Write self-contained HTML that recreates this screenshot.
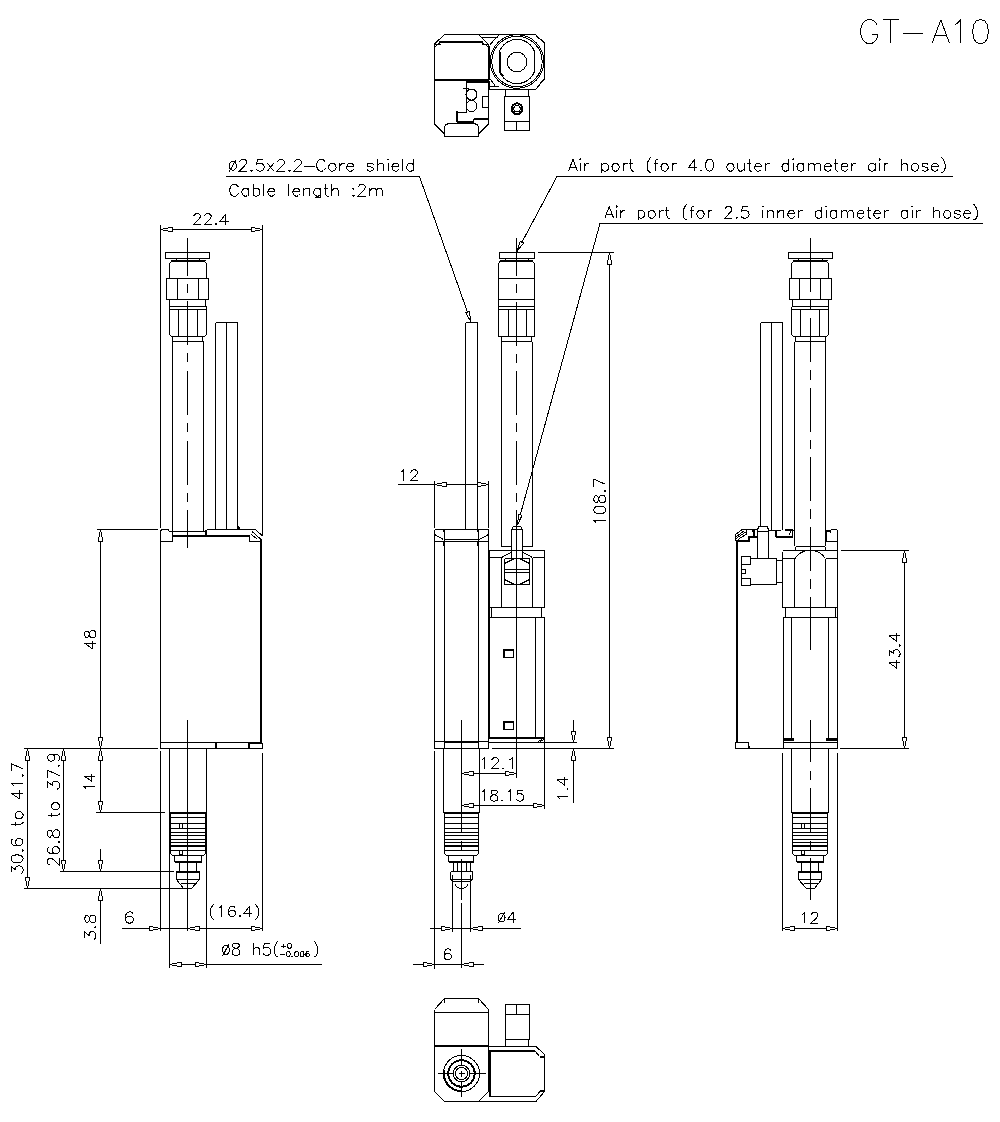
<!DOCTYPE html>
<html><head><meta charset="utf-8"><title>GT-A10</title>
<style>
html,body{margin:0;padding:0;background:#fff;}
body{width:1000px;height:1122px;overflow:hidden;font-family:"Liberation Sans",sans-serif;}
svg{display:block;}
</style></head><body>
<svg width="1000" height="1122" viewBox="0 0 1000 1122" shape-rendering="crispEdges">
<rect width="1000" height="1122" fill="#fff"/>
<g fill="none" stroke="#000" stroke-width="1">
<path d="M160.5 225L160.5 528"/>
<path d="M262.5 225L262.5 535"/>
<path d="M160.5 229.5L262.5 229.5"/>
<path d="M160.5 229.5L172 227.3L172 231.7Z" fill="#fff"/>
<path d="M262.5 229.5L251 231.7L251 227.3Z" fill="#fff"/>
<path class="t" d="M193.8 216.4L193.8 215.9L194.4 214.8L194.9 214.3L196.0 213.8L198.2 213.8L199.3 214.3L199.8 214.8L200.3 215.9L200.3 216.9L199.8 218.0L198.7 219.5L193.3 224.7L200.9 224.7M204.7 216.4L204.7 215.9L205.2 214.8L205.8 214.3L206.8 213.8L209.0 213.8L210.1 214.3L210.6 214.8L211.2 215.9L211.2 216.9L210.6 218.0L209.5 219.5L204.1 224.7L211.7 224.7M216.0 223.7L215.5 224.2L216.0 224.7L216.6 224.2L216.0 223.7M225.8 213.8L220.4 221.1L228.5 221.1M225.8 213.8L225.8 224.7"/>
<path d="M187.5 237.8L187.5 547.6" stroke-dasharray="44 8 9 8.6" stroke-dashoffset="5.95"/>
<path d="M165.5 252.5L209.5 252.5L209.5 258.5L165.5 258.5Z"/>
<path d="M176.5 258.5L176.5 261.5"/>
<path d="M199.5 258.5L199.5 261.5"/>
<path d="M170.5 260.5L206 260.5"/>
<path d="M169.5 278.5L169.5 263.5L171.5 261.5L204.5 261.5L206.5 263.5L206.5 278.5"/>
<path d="M166.5 278.5L208.5 278.5L208.5 299.5L166.5 299.5Z"/>
<path d="M177.5 278.5L177.5 299.5"/>
<path d="M198.5 278.5L198.5 299.5"/>
<path d="M169.5 299.5L169.5 306.5"/>
<path d="M205.5 299.5L205.5 306.5"/>
<path d="M169.5 306.5L207 306.5"/>
<path d="M169.5 309.5L207 309.5"/>
<path d="M169.5 306.5L169.5 334.5L171.5 336.5L204.5 336.5L206.5 334.5L206.5 306.5"/>
<path d="M178.5 309.5L178.5 336.5"/>
<path d="M197.5 309.5L197.5 336.5"/>
<path d="M172.5 336.5L172.5 341.5"/>
<path d="M202.5 336.5L202.5 341.5"/>
<path d="M172.5 341.5L204 341.5"/>
<path d="M172.5 341.5L172.5 531.5"/>
<path d="M203.5 341.5L203.5 531"/>
<path d="M215.5 322.5L215.5 529.5"/>
<path d="M226.5 322.5L226.5 529.5"/>
<path d="M237.5 322.5L237.5 529.5"/>
<path d="M215.5 322.5L238 322.5"/>
<path d="M160.5 530.5L160.5 748.5"/>
<path d="M160.5 531L162 529.5L168 529.5L169.5 531.5L172.5 531.5"/>
<path d="M172.5 531.5L172.5 541.5"/>
<path d="M160.5 541.5L172.5 541.5"/>
<path d="M172.5 536L249.5 536" stroke-width="2"/>
<path d="M172.5 531.5L205.5 531.5"/>
<path d="M206 530L206 537" stroke-width="2"/>
<path d="M206.5 529.5L255.5 529.5"/>
<path d="M255.5 529.5L262.5 536"/>
<path d="M252 531.5L261 539.5"/>
<path d="M251.5 534.5L257.5 539.5"/>
<path d="M249.5 536.5L249.5 541.5L260 541.5"/>
<path d="M238.5 529.5L238.5 526.5L240.5 529.5"/>
<path d="M261 539L261 743" stroke-width="2"/>
<path d="M160.5 742.5L262 742.5"/>
<path d="M160.5 748.5L248.5 748.5"/>
<path d="M216 743L216 748.5" stroke-width="2"/>
<path d="M248.5 743L248.5 747L249.5 748.5"/>
<path d="M249.5 743.5L262.5 743.5L262.5 748.5L249.5 748.5Z"/>
<path d="M187.5 720L187.5 931"/>
<path d="M160.5 751L160.5 930.5"/>
<path d="M262.5 753L262.5 931"/>
<path d="M169.5 748.5L169.5 968"/>
<path d="M206.5 748.5L206.5 968"/>
<path d="M169.5 812.5L207 812.5"/>
<path d="M170.5 813.5L206 813.5"/>
<path d="M170.5 817.5L206 817.5"/>
<path d="M170.5 823.5L206 823.5"/>
<path d="M170.5 828.5L206 828.5"/>
<path d="M170.5 832.5L206 832.5"/>
<path d="M170.5 835.5L206 835.5"/>
<path d="M170.5 839.5L206 839.5"/>
<path d="M170.5 842.5L206 842.5"/>
<path d="M170.5 850.5L206 850.5"/>
<path d="M170 846L206 846" stroke-width="2"/>
<path d="M170.5 813L170.5 853.5L172.5 855.5L203.5 855.5L205.5 853.5L205.5 813"/>
<path d="M179.5 823.5L182.5 823.5L182.5 828.5L179.5 828.5Z"/>
<path d="M179.5 850.5L182.5 850.5L182.5 854.5L179.5 854.5Z"/>
<path d="M174.5 855.5L174.5 862"/>
<path d="M201.5 855.5L201.5 862"/>
<path d="M175 862L202 862" stroke-width="2"/>
<path d="M179.5 863L179.5 871.5"/>
<path d="M196.5 863L196.5 871.5"/>
<path d="M176 872L200 872" stroke-width="2"/>
<path d="M176.5 872L176.5 879.5L183.5 888.5L191.5 888.5L199.5 879.5L199.5 872"/>
<path d="M176.5 879.5L200 879.5"/>
<path d="M180.5 883.5L195 883.5"/>
<path d="M97 529.5L158 529.5"/>
<path d="M100.5 529.5L100.5 748.5"/>
<path d="M100.5 529.5L102.7 541L98.3 541Z" fill="#fff"/>
<path d="M100.5 748.5L98.3 737L102.7 737Z" fill="#fff"/>
<path class="t" d="M84.7 643.2L92.0 648.5L92.0 640.6M84.7 643.2L95.6 643.2M84.7 635.3L85.2 636.9L86.3 637.4L87.3 637.4L88.3 636.9L88.9 635.8L89.4 633.7L89.9 632.1L90.9 631.0L92.0 630.5L93.5 630.5L94.6 631.0L95.1 631.6L95.6 633.1L95.6 635.3L95.1 636.9L94.6 637.4L93.5 637.9L92.0 637.9L90.9 637.4L89.9 636.3L89.4 634.7L88.9 632.6L88.3 631.6L87.3 631.0L86.3 631.0L85.2 631.6L84.7 633.1L84.7 635.3"/>
<path d="M23.5 748.5L158 748.5"/>
<path d="M27.5 748.5L27.5 888.5"/>
<path d="M27.5 748.5L29.7 760L25.3 760Z" fill="#fff"/>
<path d="M27.5 888.5L25.3 877L29.7 877Z" fill="#fff"/>
<path d="M63.5 748.5L63.5 871.5"/>
<path d="M63.5 748.5L65.7 760L61.3 760Z" fill="#fff"/>
<path d="M63.5 871.5L61.3 860L65.7 860Z" fill="#fff"/>
<path d="M100.5 748.5L100.5 812.5"/>
<path d="M100.5 748.5L102.7 760L98.3 760Z" fill="#fff"/>
<path d="M100.5 812.5L98.3 801L102.7 801Z" fill="#fff"/>
<path d="M96 812.5L165 812.5"/>
<path d="M60 871.5L174 871.5"/>
<path d="M23.5 888.5L184 888.5"/>
<path d="M100.5 849L100.5 871.5"/>
<path d="M100.5 871.5L98.3 860L102.7 860Z" fill="#fff"/>
<path d="M100.5 888.5L100.5 944"/>
<path d="M100.5 888.5L102.7 900L98.3 900Z" fill="#fff"/>
<path class="t" d="M11.0 872.4L11.0 866.4L15.6 869.7L15.6 868.0L16.1 866.9L16.7 866.4L18.4 865.8L19.6 865.8L21.3 866.4L22.4 867.5L23.0 869.1L23.0 870.8L22.4 872.4L21.9 873.0L20.7 873.5M11.0 859.3L11.6 860.9L13.3 862.0L16.1 862.6L17.9 862.6L20.7 862.0L22.4 860.9L23.0 859.3L23.0 858.2L22.4 856.5L20.7 855.4L17.9 854.9L16.1 854.9L13.3 855.4L11.6 856.5L11.0 858.2L11.0 859.3M21.9 850.5L22.4 851.1L23.0 850.5L22.4 850.0L21.9 850.5M12.7 839.0L11.6 839.6L11.0 841.2L11.0 842.3L11.6 843.9L13.3 845.0L16.1 845.6L19.0 845.6L21.3 845.0L22.4 843.9L23.0 842.3L23.0 841.8L22.4 840.1L21.3 839.0L19.6 838.5L19.0 838.5L17.3 839.0L16.1 840.1L15.6 841.8L15.6 842.3L16.1 843.9L17.3 845.0L19.0 845.6M11.0 824.2L20.7 824.2L22.4 823.7L23.0 822.6L23.0 821.5M15.0 825.9L15.0 822.1M15.0 816.0L15.6 817.1L16.7 818.2L18.4 818.8L19.6 818.8L21.3 818.2L22.4 817.1L23.0 816.0L23.0 814.4L22.4 813.3L21.3 812.2L19.6 811.7L18.4 811.7L16.7 812.2L15.6 813.3L15.0 814.4L15.0 816.0M11.0 793.1L19.0 798.5L19.0 790.3M11.0 793.1L23.0 793.1M13.3 785.9L12.7 784.8L11.0 783.2L23.0 783.2M21.9 775.5L22.4 776.1L23.0 775.5L22.4 775.0L21.9 775.5M11.0 763.5L23.0 769.0M11.0 771.2L11.0 763.5"/>
<path class="t" d="M50.4 864.9L49.8 864.9L48.6 864.4L48.1 863.8L47.5 862.7L47.5 860.5L48.1 859.4L48.6 858.8L49.8 858.3L50.9 858.3L52.1 858.8L53.8 859.9L59.5 865.5L59.5 857.7M49.2 847.1L48.1 847.7L47.5 849.3L47.5 850.4L48.1 852.1L49.8 853.2L52.6 853.8L55.5 853.8L57.8 853.2L58.9 852.1L59.5 850.4L59.5 849.9L58.9 848.2L57.8 847.1L56.1 846.5L55.5 846.5L53.8 847.1L52.6 848.2L52.1 849.9L52.1 850.4L52.6 852.1L53.8 853.2L55.5 853.8M58.4 842.1L58.9 842.6L59.5 842.1L58.9 841.5L58.4 842.1M47.5 834.8L48.1 836.5L49.2 837.1L50.4 837.1L51.5 836.5L52.1 835.4L52.6 833.2L53.2 831.5L54.4 830.4L55.5 829.8L57.2 829.8L58.4 830.4L58.9 830.9L59.5 832.6L59.5 834.8L58.9 836.5L58.4 837.1L57.2 837.6L55.5 837.6L54.4 837.1L53.2 836.0L52.6 834.3L52.1 832.0L51.5 830.9L50.4 830.4L49.2 830.4L48.1 830.9L47.5 832.6L47.5 834.8M47.5 815.3L57.2 815.3L58.9 814.8L59.5 813.7L59.5 812.5M51.5 817.0L51.5 813.1M51.5 807.0L52.1 808.1L53.2 809.2L54.9 809.8L56.1 809.8L57.8 809.2L58.9 808.1L59.5 807.0L59.5 805.3L58.9 804.2L57.8 803.1L56.1 802.5L54.9 802.5L53.2 803.1L52.1 804.2L51.5 805.3L51.5 807.0M47.5 788.0L47.5 781.9L52.1 785.2L52.1 783.5L52.6 782.4L53.2 781.9L54.9 781.3L56.1 781.3L57.8 781.9L58.9 783.0L59.5 784.7L59.5 786.3L58.9 788.0L58.4 788.6L57.2 789.1M47.5 770.2L59.5 775.7M47.5 778.0L47.5 770.2M58.4 765.7L58.9 766.3L59.5 765.7L58.9 765.1L58.4 765.7M51.5 754.0L53.2 754.6L54.4 755.7L54.9 757.3L54.9 757.9L54.4 759.6L53.2 760.7L51.5 761.2L50.9 761.2L49.2 760.7L48.1 759.6L47.5 757.9L47.5 757.3L48.1 755.7L49.2 754.6L51.5 754.0L54.4 754.0L57.2 754.6L58.9 755.7L59.5 757.3L59.5 758.5L58.9 760.1L57.8 760.7"/>
<path class="t" d="M86.2 789.3L85.7 788.3L84.1 786.8L95.0 786.8M84.1 776.0L91.4 780.9L91.4 773.5M84.1 776.0L95.0 776.0"/>
<path class="t" d="M84.9 938.3L84.9 932.2L89.1 935.5L89.1 933.9L89.6 932.7L90.1 932.2L91.6 931.6L92.7 931.6L94.2 932.2L95.3 933.3L95.8 935.0L95.8 936.6L95.3 938.3L94.8 938.8L93.7 939.4M94.8 927.2L95.3 927.8L95.8 927.2L95.3 926.6L94.8 927.2M84.9 920.0L85.4 921.7L86.5 922.2L87.5 922.2L88.5 921.7L89.1 920.5L89.6 918.3L90.1 916.7L91.1 915.6L92.2 915.0L93.7 915.0L94.8 915.6L95.3 916.1L95.8 917.8L95.8 920.0L95.3 921.7L94.8 922.2L93.7 922.8L92.2 922.8L91.1 922.2L90.1 921.1L89.6 919.4L89.1 917.2L88.5 916.1L87.5 915.6L86.5 915.6L85.4 916.1L84.9 917.8L84.9 920.0"/>
<path d="M121.5 928.5L262.5 928.5"/>
<path d="M160.5 928.5L149 930.7L149 926.3Z" fill="#fff"/>
<path d="M187.5 928.5L199 926.3L199 930.7Z" fill="#fff"/>
<path d="M262.5 928.5L251 930.7L251 926.3Z" fill="#fff"/>
<path class="t" d="M132.9 913.5L132.3 912.4L130.4 911.9L129.2 911.9L127.3 912.4L126.1 914.1L125.5 916.7L125.5 919.4L126.1 921.6L127.3 922.7L129.2 923.2L129.8 923.2L131.7 922.7L132.9 921.6L133.5 920.0L133.5 919.4L132.9 917.8L131.7 916.7L129.8 916.2L129.2 916.2L127.3 916.7L126.1 917.8L125.5 919.4"/>
<path class="t" d="M214.1 904.1L213.0 905.1L211.9 906.6L210.8 908.6L210.3 911.1L210.3 913.1L210.8 915.6L211.9 917.6L213.0 919.1L214.1 920.1M218.9 908.1L220.0 907.6L221.6 906.1L221.6 916.6M235.1 907.6L234.6 906.6L232.9 906.1L231.9 906.1L230.2 906.6L229.2 908.1L228.6 910.6L228.6 913.1L229.2 915.1L230.2 916.1L231.9 916.6L232.4 916.6L234.0 916.1L235.1 915.1L235.6 913.6L235.6 913.1L235.1 911.6L234.0 910.6L232.4 910.1L231.9 910.1L230.2 910.6L229.2 911.6L228.6 913.1M239.9 915.6L239.4 916.1L239.9 916.6L240.5 916.1L239.9 915.6M249.6 906.1L244.2 913.1L252.3 913.1M249.6 906.1L249.6 916.6M255.0 904.1L256.1 905.1L257.2 906.6L258.3 908.6L258.8 911.1L258.8 913.1L258.3 915.6L257.2 917.6L256.1 919.1L255.0 920.1"/>
<path d="M169.5 964.5L322 964.5"/>
<path d="M169.5 964.5L181 962.3L181 966.7Z" fill="#fff"/>
<path d="M206.5 964.5L195 966.7L195 962.3Z" fill="#fff"/>
<path class="t" d="M229.5 949.9L229.2 948.1L228.4 946.6L227.3 945.6L225.9 945.2L224.6 945.6L223.4 946.6L222.7 948.1L222.4 949.9L222.7 951.7L223.4 953.2L224.6 954.2L225.9 954.5L227.3 954.2L228.4 953.2L229.2 951.7L229.5 949.9M222.7 955.8L229.2 943.5M234.9 943.2L233.3 943.8L232.7 944.9L232.7 946.1L233.3 947.3L234.3 947.8L236.5 948.4L238.1 949.0L239.2 950.2L239.8 951.3L239.8 953.1L239.2 954.2L238.7 954.8L237.1 955.4L234.9 955.4L233.3 954.8L232.7 954.2L232.2 953.1L232.2 951.3L232.7 950.2L233.8 949.0L235.4 948.4L237.6 947.8L238.7 947.3L239.2 946.1L239.2 944.9L238.7 943.8L237.1 943.2L234.9 943.2M253.3 943.2L253.3 955.4M253.3 949.6L255.0 947.8L256.0 947.3L257.7 947.3L258.8 947.8L259.3 949.6L259.3 955.4M269.6 943.2L264.2 943.2L263.6 948.4L264.2 947.8L265.8 947.3L267.4 947.3L269.1 947.8L270.2 949.0L270.7 950.8L270.7 951.9L270.2 953.7L269.1 954.8L267.4 955.4L265.8 955.4L264.2 954.8L263.6 954.2L263.1 953.1M278.3 940.9L277.2 942.0L276.1 943.8L275.0 946.1L274.5 949.0L274.5 951.3L275.0 954.2L276.1 955.9L277.2 956.7L278.3 957.2"/>
<path class="t" d="M283.0 943.8L283.0 948.3M280.5 946.1L285.6 946.1M289.2 943.1L288.4 943.3L287.8 944.1L287.6 945.3L287.6 946.1L287.8 947.3L288.4 948.1L289.2 948.3L289.8 948.3L290.7 948.1L291.2 947.3L291.5 946.1L291.5 945.3L291.2 944.1L290.7 943.3L289.8 943.1L289.2 943.1"/>
<path class="t" d="M280.3 954.6L285.3 954.6M288.0 951.6L287.2 951.8L286.6 952.6L286.4 953.8L286.4 954.6L286.6 955.8L287.2 956.6L288.0 956.8L288.6 956.8L289.4 956.6L289.9 955.8L290.2 954.6L290.2 953.8L289.9 952.6L289.4 951.8L288.6 951.6L288.0 951.6M292.4 956.3L292.1 956.6L292.4 956.8L292.7 956.6L292.4 956.3M296.3 951.6L295.5 951.8L294.9 952.6L294.6 953.8L294.6 954.6L294.9 955.8L295.5 956.6L296.3 956.8L296.8 956.8L297.7 956.6L298.2 955.8L298.5 954.6L298.5 953.8L298.2 952.6L297.7 951.8L296.8 951.6L296.3 951.6M301.8 951.6L301.0 951.8L300.4 952.6L300.1 953.8L300.1 954.6L300.4 955.8L301.0 956.6L301.8 956.8L302.3 956.8L303.2 956.6L303.7 955.8L304.0 954.6L304.0 953.8L303.7 952.6L303.2 951.8L302.3 951.6L301.8 951.6M309.2 952.3L308.9 951.8L308.1 951.6L307.6 951.6L306.7 951.8L306.2 952.6L305.9 953.8L305.9 955.1L306.2 956.1L306.7 956.6L307.6 956.8L307.8 956.8L308.7 956.6L309.2 956.1L309.5 955.3L309.5 955.1L309.2 954.3L308.7 953.8L307.8 953.6L307.6 953.6L306.7 953.8L306.2 954.3L305.9 955.1"/>
<path class="t" d="M313.8 940.9L314.9 942.0L316.0 943.8L317.1 946.1L317.6 949.0L317.6 951.3L317.1 954.2L316.0 955.9L314.9 956.7L313.8 957.2"/>
<path d="M516.5 238L516.5 526" stroke-dasharray="44 8 9 8.6" stroke-dashoffset="5.95"/>
<path d="M499.5 252.5L534.5 252.5L534.5 258.5L499.5 258.5Z"/>
<path d="M505.5 258.5L505.5 262"/>
<path d="M528.5 258.5L528.5 262"/>
<path d="M500 260.5L533 260.5"/>
<path d="M498.5 336.5L498.5 263.5L500 261.5L532.5 261.5L534.5 263.5L534.5 336.5"/>
<path d="M498.5 278.5L534.5 278.5"/>
<path d="M498.5 299.5L534.5 299.5"/>
<path d="M498.5 306.5L534.5 306.5"/>
<path d="M498.5 309.5L534.5 309.5"/>
<path d="M498.5 336.5L534.5 336.5"/>
<path d="M508.5 309.5L508.5 336.5"/>
<path d="M526.5 309.5L526.5 336.5"/>
<path d="M501.5 336.5L501.5 341.5"/>
<path d="M531.5 336.5L531.5 341.5"/>
<path d="M501.5 341.5L532 341.5"/>
<path d="M501.5 341.5L501.5 547"/>
<path d="M532.5 341.5L532.5 547"/>
<path d="M465.5 322.5L465.5 529.5"/>
<path d="M477.5 322.5L477.5 529.5"/>
<path d="M465.5 322.5L478 322.5"/>
<path d="M434.5 481L434.5 528"/>
<path d="M488.5 481L488.5 528"/>
<path d="M398 484.5L488.5 484.5"/>
<path d="M434.5 484.5L446 482.3L446 486.7Z" fill="#fff"/>
<path d="M488.5 484.5L477 486.7L477 482.3Z" fill="#fff"/>
<path class="t" d="M401.0 472.0L402.1 471.5L403.7 469.9L403.7 480.8M410.9 472.5L410.9 472.0L411.4 470.9L412.0 470.4L413.1 469.9L415.3 469.9L416.4 470.4L416.9 470.9L417.5 472.0L417.5 473.0L416.9 474.1L415.8 475.6L410.3 480.8L418.0 480.8"/>
<path d="M434.5 529.5L434.5 748.5"/>
<path d="M488.5 529.5L488.5 748.5"/>
<path d="M434.5 529.5L488.5 529.5"/>
<path d="M444.5 529.5L444.5 748.5"/>
<path d="M478.5 529.5L478.5 748.5"/>
<path d="M444 529.5L444 532" stroke-width="2"/>
<path d="M478 529.5L478 532" stroke-width="2"/>
<path d="M434.5 534.5L443.5 539.5"/>
<path d="M488.5 534.5L479.5 539.5"/>
<path d="M444.5 539.5L478.5 539.5"/>
<path d="M434.5 541.5L488.5 541.5"/>
<path d="M444 541.5L444 546" stroke-width="2"/>
<path d="M478 541.5L478 546" stroke-width="2"/>
<path d="M444.5 742L478.5 742" stroke-width="2"/>
<path d="M434.5 741.5L488.5 741.5"/>
<path d="M434.5 748.5L488.5 748.5"/>
<path d="M461.5 720L461.5 832.3"/>
<path d="M461.5 841L461.5 849.7"/>
<path d="M461.5 858.5L461.5 899.7"/>
<path d="M461.5 903.4L461.5 968.3"/>
<path d="M501.5 546.5L511.5 546.5"/>
<path d="M522 546.5L532.5 546.5"/>
<path d="M489 550.5L545 550.5"/>
<path d="M489 550.5L489 738" stroke-width="2"/>
<path d="M544.5 550.5L544.5 607.5"/>
<path d="M489 557.5L501.5 557.5"/>
<path d="M532.5 557.5L544.5 557.5"/>
<path d="M501.5 557.5L511 552.5"/>
<path d="M532.5 557.5L523 552.5"/>
<path d="M501.5 557.5L501.5 607.5"/>
<path d="M532.5 557.5L532.5 607.5"/>
<path d="M511.5 557.5L511.5 529.5L513.5 526.5L520.5 526.5L522.5 529.5L522.5 557.5"/>
<path d="M511.5 529.5L522.5 529.5"/>
<path d="M516.5 526.5L516.5 777.5"/>
<path d="M504.5 563.5L504.5 584.5L529.5 584.5L529.5 563.5"/>
<path d="M504.5 563.5L514.5 558.5"/>
<path d="M529.5 563.5L519.5 558.5"/>
<path d="M504.5 558.5L529.5 558.5"/>
<path d="M504.5 558.5L504.5 563.5"/>
<path d="M529.5 558.5L529.5 563.5"/>
<path d="M504.5 569.5L529.5 569.5"/>
<path d="M504.5 572.5L529.5 572.5"/>
<path d="M504.5 579.5L514.5 584.5"/>
<path d="M529.5 579.5L519.5 584.5"/>
<path d="M489 607.5L545 607.5"/>
<path d="M491.5 607.5L491.5 617.5"/>
<path d="M541.5 607.5L541.5 617.5"/>
<path d="M489 617.5L545 617.5"/>
<path d="M535.5 617.5L535.5 738"/>
<path d="M544.5 617.5L544.5 809"/>
<path d="M489 738L543.5 738" stroke-width="2"/>
<path d="M538.5 741.5L544.5 737.5"/>
<path d="M540.5 741.5L544.5 739"/>
<path d="M503.5 649.5L513.5 649.5L513.5 657.5L503.5 657.5Z"/>
<path d="M504 649.5L504 657.5" stroke-width="2"/>
<path d="M503.5 650L513.5 650" stroke-width="2"/>
<path d="M503.5 721.5L513.5 721.5L513.5 729.5L503.5 729.5Z"/>
<path d="M504 721.5L504 729.5" stroke-width="2"/>
<path d="M503.5 722L513.5 722" stroke-width="2"/>
<path d="M489 742.5L577 742.5"/>
<path d="M491.5 748.5L614 748.5"/>
<path d="M573.5 720L573.5 742.5"/>
<path d="M573.5 742.5L571.3 731L575.7 731Z" fill="#fff"/>
<path d="M573.5 748.5L573.5 802.5"/>
<path d="M573.5 748.5L575.7 760L571.3 760Z" fill="#fff"/>
<path class="t" d="M559.4 798.7L558.9 797.7L557.3 796.2L568.2 796.2M567.2 789.1L567.7 789.6L568.2 789.1L567.7 788.6L567.2 789.1M557.3 779.9L564.6 785.0L564.6 777.4M557.3 779.9L568.2 779.9"/>
<path d="M538 252.5L613.5 252.5"/>
<path d="M609.5 252.5L609.5 748.5"/>
<path d="M609.5 252.5L611.7 264L607.3 264Z" fill="#fff"/>
<path d="M609.5 748.5L607.3 737L611.7 737Z" fill="#fff"/>
<path class="t" d="M596.1 523.0L595.6 521.9L593.9 520.3L605.5 520.3M593.9 510.5L594.5 512.1L596.1 513.2L598.9 513.8L600.5 513.8L603.3 513.2L604.9 512.1L605.5 510.5L605.5 509.4L604.9 507.8L603.3 506.7L600.5 506.2L598.9 506.2L596.1 506.7L594.5 507.8L593.9 509.4L593.9 510.5M593.9 500.2L594.5 501.8L595.6 502.4L596.7 502.4L597.8 501.8L598.3 500.7L598.9 498.6L599.4 496.9L600.5 495.8L601.6 495.3L603.3 495.3L604.4 495.8L604.9 496.4L605.5 498.0L605.5 500.2L604.9 501.8L604.4 502.4L603.3 502.9L601.6 502.9L600.5 502.4L599.4 501.3L598.9 499.6L598.3 497.5L597.8 496.4L596.7 495.8L595.6 495.8L594.5 496.4L593.9 498.0L593.9 500.2M604.4 491.0L604.9 491.5L605.5 491.0L604.9 490.4L604.4 491.0M593.9 479.0L605.5 484.4M593.9 486.6L593.9 479.0"/>
<path d="M434.5 751L434.5 968.5"/>
<path d="M443.5 748.5L443.5 812.5"/>
<path d="M479.5 748.5L479.5 812.5"/>
<path d="M461.5 773.5L516.5 773.5"/>
<path d="M461.5 773.5L473 771.3L473 775.7Z" fill="#fff"/>
<path d="M516.5 773.5L505 775.7L505 771.3Z" fill="#fff"/>
<path class="t" d="M481.8 759.9L482.9 759.4L484.6 757.8L484.6 768.7M491.8 760.4L491.8 759.9L492.3 758.8L492.9 758.3L494.0 757.8L496.2 757.8L497.3 758.3L497.9 758.8L498.4 759.9L498.4 760.9L497.9 762.0L496.8 763.5L491.2 768.7L499.0 768.7M503.4 767.7L502.9 768.2L503.4 768.7L504.0 768.2L503.4 767.7M509.5 759.9L510.6 759.4L512.3 757.8L512.3 768.7"/>
<path d="M461.5 805.5L544.5 805.5"/>
<path d="M461.5 805.5L473 803.3L473 807.7Z" fill="#fff"/>
<path d="M544.5 805.5L533 807.7L533 803.3Z" fill="#fff"/>
<path class="t" d="M481.8 792.2L482.8 791.7L484.4 790.1L484.4 801.0M493.2 790.1L491.7 790.6L491.1 791.7L491.1 792.7L491.7 793.7L492.7 794.3L494.8 794.8L496.3 795.3L497.4 796.3L497.9 797.4L497.9 798.9L497.4 800.0L496.8 800.5L495.3 801.0L493.2 801.0L491.7 800.5L491.1 800.0L490.6 798.9L490.6 797.4L491.1 796.3L492.2 795.3L493.7 794.8L495.8 794.3L496.8 793.7L497.4 792.7L497.4 791.7L496.8 790.6L495.3 790.1L493.2 790.1M502.0 800.0L501.5 800.5L502.0 801.0L502.5 800.5L502.0 800.0M507.7 792.2L508.8 791.7L510.3 790.1L510.3 801.0M522.8 790.1L517.6 790.1L517.1 794.8L517.6 794.3L519.1 793.7L520.7 793.7L522.2 794.3L523.3 795.3L523.8 796.8L523.8 797.9L523.3 799.4L522.2 800.5L520.7 801.0L519.1 801.0L517.6 800.5L517.1 800.0L516.5 798.9"/>
<path d="M443.5 812.5L479.5 812.5"/>
<path d="M444.5 813.5L478.5 813.5"/>
<path d="M444.5 817.5L478.5 817.5"/>
<path d="M444.5 823.5L478.5 823.5"/>
<path d="M444.5 828.5L478.5 828.5"/>
<path d="M444.5 832.5L478.5 832.5"/>
<path d="M444.5 835.5L478.5 835.5"/>
<path d="M444.5 839.5L478.5 839.5"/>
<path d="M444.5 842.5L478.5 842.5"/>
<path d="M444.5 850.5L478.5 850.5"/>
<path d="M444.5 846L478.5 846" stroke-width="2"/>
<path d="M444.5 813L444.5 853.5L446.5 855.5L476.5 855.5L478.5 853.5L478.5 813"/>
<path d="M448.5 855.5L448.5 862"/>
<path d="M473.5 855.5L473.5 862"/>
<path d="M448.5 862L474 862" stroke-width="2"/>
<path d="M453.5 863L453.5 871.5"/>
<path d="M470.5 863L470.5 871.5"/>
<path d="M457.5 863L457.5 871.5"/>
<path d="M466.5 863L466.5 871.5"/>
<path d="M451 871.5L473 871.5"/>
<path d="M450.5 871.5L450.5 879L452.5 881.5L470.5 881.5L472.5 879L472.5 871.5"/>
<path d="M455 884A6.9 6.9 0 0 0 468 884"/>
<path d="M451 879.5L473 879.5"/>
<path d="M452.5 875L452.5 881"/>
<path d="M470.5 875L470.5 881"/>
<path d="M452.5 881.5L452.5 931.5"/>
<path d="M470.5 881.5L470.5 931.5"/>
<path d="M430 928.5L521 928.5"/>
<path d="M452.5 928.5L441 930.7L441 926.3Z" fill="#fff"/>
<path d="M470.5 928.5L482 926.3L482 930.7Z" fill="#fff"/>
<path class="t" d="M505.1 917.9L504.8 916.3L504.1 914.9L502.9 914.0L501.5 913.7L500.2 914.0L499.0 914.9L498.3 916.3L498.0 917.9L498.3 919.5L499.0 920.8L500.2 921.7L501.5 922.0L502.9 921.7L504.1 920.8L504.8 919.5L505.1 917.9M498.3 923.2L504.8 912.2M513.3 911.9L507.8 919.2L516.0 919.2M513.3 911.9L513.3 922.8"/>
<path d="M412.5 964.5L483.5 964.5"/>
<path d="M434.5 964.5L423 966.7L423 962.3Z" fill="#fff"/>
<path d="M461.5 964.5L473 962.3L473 966.7Z" fill="#fff"/>
<path class="t" d="M450.9 950.5L450.4 949.4L448.7 948.9L447.6 948.9L446.0 949.4L444.9 951.0L444.3 953.6L444.3 956.2L444.9 958.2L446.0 959.3L447.6 959.8L448.2 959.8L449.8 959.3L450.9 958.2L451.5 956.7L451.5 956.2L450.9 954.6L449.8 953.6L448.2 953.1L447.6 953.1L446.0 953.6L444.9 954.6L444.3 956.2"/>
<path d="M810.5 238.4L810.5 292.1"/>
<path d="M810.5 300.1L810.5 309.8"/>
<path d="M810.5 317.8L810.5 361.8"/>
<path d="M810.5 369.8L810.5 379.5"/>
<path d="M810.5 387.5L810.5 431.5"/>
<path d="M810.5 439.5L810.5 449.2"/>
<path d="M810.5 457.2L810.5 501.2"/>
<path d="M810.5 509.2L810.5 518.9"/>
<path d="M810.5 526.9L810.5 570.9"/>
<path d="M810.5 578.9L810.5 588.6"/>
<path d="M810.5 596.6L810.5 650.2"/>
<path d="M810.5 720L810.5 762.1"/>
<path d="M810.5 770.5L810.5 780.2"/>
<path d="M810.5 788.1L810.5 831.8"/>
<path d="M810.5 841L810.5 850"/>
<path d="M810.5 858L810.5 899.8"/>
<path d="M788.5 252.5L832.5 252.5L832.5 258.5L788.5 258.5Z"/>
<path d="M822.5 258.5L822.5 261.5"/>
<path d="M798.5 258.5L798.5 261.5"/>
<path d="M792.5 260.5L828 260.5"/>
<path d="M828.5 278.5L828.5 263.5L826.5 261.5L793.5 261.5L791.5 263.5L791.5 278.5"/>
<path d="M789.5 278.5L831.5 278.5L831.5 299.5L789.5 299.5Z"/>
<path d="M820.5 278.5L820.5 299.5"/>
<path d="M799.5 278.5L799.5 299.5"/>
<path d="M828.5 299.5L828.5 306.5"/>
<path d="M792.5 299.5L792.5 306.5"/>
<path d="M791.5 306.5L829 306.5"/>
<path d="M791.5 309.5L829 309.5"/>
<path d="M828.5 306.5L828.5 334.5L826.5 336.5L793.5 336.5L791.5 334.5L791.5 306.5"/>
<path d="M819.5 309.5L819.5 336.5"/>
<path d="M800.5 309.5L800.5 336.5"/>
<path d="M825.5 336.5L825.5 341.5"/>
<path d="M795.5 336.5L795.5 341.5"/>
<path d="M794.5 341.5L826 341.5"/>
<path d="M794.5 341.5L794.5 546"/>
<path d="M825.5 341.5L825.5 546"/>
<path d="M760.5 322.5L760.5 526.5"/>
<path d="M771.5 322.5L771.5 530"/>
<path d="M782.5 322.5L782.5 529.5"/>
<path d="M760.5 322.5L783 322.5"/>
<path d="M737 541L737 742.5" stroke-width="2"/>
<path d="M735.5 540.5L735.5 534.5L742 529.5L757.5 529.5"/>
<path d="M736 538.5L746.5 531.5"/>
<path d="M736.5 536.5L744.5 530.5"/>
<path d="M746.5 529.5L746.5 534L738 539.5"/>
<path d="M736 540.5L749 540.5L749 537L757.5 537" stroke-width="2"/>
<path d="M754 530L754 536" stroke-width="2"/>
<path d="M752.5 530L754 535"/>
<path d="M757.5 558.5L757.5 530.5L758.5 526.5L767.5 526.5L768.5 530.5L768.5 558.5"/>
<path d="M757.5 531.5L768.5 531.5"/>
<path d="M768.5 530.5L775.5 530.5"/>
<path d="M775.5 530L775.5 536.5L792.5 536.5L792.5 529.5"/>
<path d="M776 530L776 537" stroke-width="2"/>
<path d="M775.5 537L792.5 537" stroke-width="2"/>
<path d="M785 530L792.5 530" stroke-width="2"/>
<path d="M775.5 530.5L781 530.5"/>
<path d="M789 535L791 531"/>
<path d="M792.5 530.5L794.5 530.5"/>
<path d="M831 529.5L836.5 529.5L837.5 530.5L837.5 748.5"/>
<path d="M825.5 531L830.5 531" stroke-width="2"/>
<path d="M830.5 529.5L830.5 532.5"/>
<path d="M826 532L826 541" stroke-width="2"/>
<path d="M826 541.5L837.5 541.5"/>
<path d="M795.5 546.5L825 546.5"/>
<path d="M795.5 546.5L795.5 550.5"/>
<path d="M825.5 546.5L825.5 550.5"/>
<path d="M783 550.5L838 550.5"/>
<path d="M841 550.5L909 550.5"/>
<path d="M782.5 552L782.5 607.5"/>
<path d="M782.5 558.5L794.5 558.5"/>
<path d="M825.5 558.5L838 558.5"/>
<path d="M794.5 558.5L794.5 607.5"/>
<path d="M825.5 558.5L825.5 607.5"/>
<path d="M795 558.5A18.3 18.3 0 0 1 825.5 558.5"/>
<path d="M750.5 558.5L776.5 558.5L776.5 584.5L750.5 584.5"/>
<path d="M750.5 564.5L750.5 556.5L741.5 556.5L741.5 585.5L750.5 585.5L750.5 578.5"/>
<path d="M741.5 564.5L750.5 564.5"/>
<path d="M741.5 578.5L750.5 578.5"/>
<path d="M741.5 569.5L745.5 569.5L745.5 573.5L741.5 573.5"/>
<path d="M776.5 560.5L782.5 560.5"/>
<path d="M776.5 582.5L782.5 582.5"/>
<path d="M782.5 607.5L838 607.5"/>
<path d="M785.5 607.5L785.5 617.5"/>
<path d="M835.5 607.5L835.5 617.5"/>
<path d="M782.5 617.5L838 617.5"/>
<path d="M783.5 617.5L783.5 748.5"/>
<path d="M791.5 617.5L791.5 738"/>
<path d="M828.5 617.5L828.5 738"/>
<path d="M735.5 742.5L748.5 742.5L748.5 748.5L735.5 748.5Z"/>
<path d="M748.5 744L749.5 748.5"/>
<path d="M735.5 748.5L838 748.5"/>
<path d="M840 748.5L909 748.5"/>
<path d="M783 742.5L838 742.5"/>
<path d="M783 739.5L794 739.5" stroke-width="3"/>
<path d="M826 739.5L838 739.5" stroke-width="3"/>
<path d="M782.5 753L782.5 931"/>
<path d="M837.5 753L837.5 931"/>
<path d="M791.5 748.5L791.5 812.5"/>
<path d="M828.5 748.5L828.5 812.5"/>
<path d="M791.5 812.5L829 812.5"/>
<path d="M792.5 813.5L828 813.5"/>
<path d="M792.5 817.5L828 817.5"/>
<path d="M792.5 823.5L828 823.5"/>
<path d="M792.5 828.5L828 828.5"/>
<path d="M792.5 832.5L828 832.5"/>
<path d="M792.5 835.5L828 835.5"/>
<path d="M792.5 839.5L828 839.5"/>
<path d="M792.5 842.5L828 842.5"/>
<path d="M792.5 850.5L828 850.5"/>
<path d="M792 846L828 846" stroke-width="2"/>
<path d="M827.5 813L827.5 853.5L825.5 855.5L794.5 855.5L792.5 853.5L792.5 813"/>
<path d="M801.5 823.5L804.5 823.5L804.5 828.5L801.5 828.5Z"/>
<path d="M801.5 850.5L804.5 850.5L804.5 854.5L801.5 854.5Z"/>
<path d="M823.5 855.5L823.5 862"/>
<path d="M796.5 855.5L796.5 862"/>
<path d="M797 862L824 862" stroke-width="2"/>
<path d="M818.5 863L818.5 871.5"/>
<path d="M801.5 863L801.5 871.5"/>
<path d="M798 872L822 872" stroke-width="2"/>
<path d="M821.5 872L821.5 879.5L814.5 888.5L806.5 888.5L798.5 879.5L798.5 872"/>
<path d="M798.5 879.5L822 879.5"/>
<path d="M803.5 883.5L818 883.5"/>
<path d="M904.5 550.5L904.5 748.5"/>
<path d="M904.5 550.5L906.7 562L902.3 562Z" fill="#fff"/>
<path d="M904.5 748.5L902.3 737L906.7 737Z" fill="#fff"/>
<path class="t" d="M889.1 662.6L896.4 668.0L896.4 659.9M889.1 662.6L900.0 662.6M889.1 656.2L889.1 650.2L893.3 653.5L893.3 651.8L893.8 650.8L894.3 650.2L895.8 649.7L896.9 649.7L898.4 650.2L899.5 651.3L900.0 652.9L900.0 654.5L899.5 656.2L899.0 656.7L897.9 657.2M899.0 645.4L899.5 645.9L900.0 645.4L899.5 644.8L899.0 645.4M889.1 635.7L896.4 641.1L896.4 633.0M889.1 635.7L900.0 635.7"/>
<path d="M782.5 928.5L837.5 928.5"/>
<path d="M782.5 928.5L794 926.3L794 930.7Z" fill="#fff"/>
<path d="M837.5 928.5L826 930.7L826 926.3Z" fill="#fff"/>
<path class="t" d="M801.8 914.5L802.9 914.0L804.5 912.4L804.5 923.3M811.4 915.0L811.4 914.5L812.0 913.4L812.5 912.9L813.6 912.4L815.7 912.4L816.8 912.9L817.3 913.4L817.9 914.5L817.9 915.5L817.3 916.6L816.3 918.1L810.9 923.3L818.4 923.3"/>
<path d="M434.5 44L444.5 34.5L535.5 34.5L544.5 43L544.5 79L535.5 89.5L489.5 89.5"/>
<path d="M434.5 44L434.5 124L444.5 134"/>
<path d="M488.5 44L488.5 124L478.5 134"/>
<path d="M478.5 34.5L488.5 44.5"/>
<path d="M439 42L482.5 42" stroke-width="2"/>
<path d="M435 46.5L440 43"/>
<path d="M482.5 43L488 46.5"/>
<path d="M435 44.5L441 44.5"/>
<path d="M482 44.5L488 44.5"/>
<path d="M434.5 80L488.5 80" stroke-width="2"/>
<path d="M466 81.5L488.5 81.5" stroke-width="3"/>
<path d="M489 46L489 80" stroke-width="2"/>
<path d="M466.5 82L466.5 112.5"/>
<path d="M462.5 88.5L469 88.5"/>
<circle cx="471.5" cy="94.5" r="5.5"/>
<circle cx="471.5" cy="106" r="5.5"/>
<path d="M482.5 96.5L488.5 96.5L488.5 107.5L482.5 107.5Z"/>
<path d="M457 111L457 122" stroke-width="2"/>
<path d="M457 112.5L466.5 112.5"/>
<path d="M457 122L473.5 122" stroke-width="2"/>
<path d="M473.5 119L473.5 121.5"/>
<path d="M473.5 119L488.5 119" stroke-width="2"/>
<path d="M444.5 136.5L444.5 127L446 124.5L449 123.5L474 123.5L477 124.5L478.5 127L478.5 136.5L444.5 136.5"/>
<path d="M449 123.5L471 123.5"/>
<path d="M482 37.5L497.5 37.5"/>
<path d="M490 44.5L498.5 35.5"/>
<path d="M489.5 78L495 85.5"/>
<path d="M536.5 36L543.5 42.5"/>
<path d="M536.5 87.5L543.5 80"/>
<path d="M489.5 86.5L498.5 86.5"/>
<path d="M489.5 80.5L489.5 89.5"/>
<circle cx="517" cy="61.5" r="26.8"/>
<circle cx="517" cy="61.5" r="25.2"/>
<path d="M499.5 51.5A18.7 18.7 0 0 1 534.5 51.5L534.5 71.5A18.7 18.7 0 0 1 499.5 71.5Z"/>
<path d="M500 52L500 71" stroke-width="2"/>
<path d="M499.5 71.5L503 76.5" stroke-width="2"/>
<circle cx="517" cy="62" r="9.8"/>
<path d="M505.5 89.5L505.5 96.5"/>
<path d="M528.5 89.5L528.5 96.5"/>
<path d="M504.5 96.5L529.5 96.5L529.5 130.5L504.5 130.5Z"/>
<path d="M504.5 121.5L529.5 121.5"/>
<path d="M516.5 121.5L516.5 130.5"/>
<circle cx="517" cy="108.8" r="5.4" stroke-width="2"/>
<circle cx="517" cy="108.8" r="3.2"/>
<path d="M434.5 1009.5L444.5 998.5L478.5 998.5L488.5 1009.5L488.5 1091.5L478.5 1101.5"/>
<path d="M434.5 1009.5L434.5 1091.5L444.5 1101.5L536 1101.5L544.5 1091.5L544.5 1054.5L536 1046.5L488.5 1046.5"/>
<path d="M444.5 998.5L444.5 1003"/>
<path d="M478.5 998.5L478.5 1002.5"/>
<path d="M434.5 1012.5L488.5 1012.5"/>
<path d="M434.5 1046L488.5 1046" stroke-width="2"/>
<circle cx="461.5" cy="1073.5" r="18"/>
<path d="M444 1070A17.7 17.7 0 0 0 461 1091" stroke-width="2"/>
<circle cx="461.5" cy="1073.5" r="13.2" stroke-width="2"/>
<circle cx="461.5" cy="1073.5" r="8.3"/>
<circle cx="461.5" cy="1073.5" r="6.1"/>
<path d="M438 1073.5L453 1073.5"/>
<path d="M470 1073.5L486 1073.5"/>
<path d="M461.5 1049L461.5 1065"/>
<path d="M461.5 1082L461.5 1096.5"/>
<path d="M459 1073.5L464.5 1073.5"/>
<path d="M461.5 1071L461.5 1076.5"/>
<path d="M490 1050L490 1097" stroke-width="2"/>
<path d="M489 1051L535 1051" stroke-width="2"/>
<path d="M535 1051L539.5 1056.5"/>
<path d="M539.5 1057L544.5 1057" stroke-width="2"/>
<path d="M489.5 1096.5L535.5 1096.5"/>
<path d="M535.5 1096.5L540 1091.5"/>
<path d="M540 1091L544.5 1091" stroke-width="2"/>
<path d="M505.5 1004.5L529.5 1004.5L529.5 1039.5L505.5 1039.5Z"/>
<path d="M505.5 1014.5L529.5 1014.5"/>
<path d="M516.5 1004.5L516.5 1014.5"/>
<path d="M505.5 1039.5L505.5 1046.5"/>
<path d="M528.5 1039.5L528.5 1046.5"/>
<path class="t" d="M877.2 25.5L876.2 23.3L874.0 21.0L871.8 19.9L867.4 19.9L865.2 21.0L863.0 23.3L861.9 25.5L860.8 28.9L860.8 34.4L861.9 37.8L863.0 40.0L865.2 42.3L867.4 43.4L871.8 43.4L874.0 42.3L876.2 40.0L877.2 37.8L877.2 34.4M871.8 34.4L877.2 34.4M890.9 19.9L890.9 43.4M883.2 19.9L898.6 19.9M903.2 33.3L922.9 33.3M940.8 19.9L932.0 43.4M940.8 19.9L949.5 43.4M935.3 35.6L946.3 35.6M955.2 24.4L957.4 23.3L960.7 19.9L960.7 43.4M979.4 19.9L976.1 21.0L973.9 24.4L972.8 30.0L972.8 33.3L973.9 38.9L976.1 42.3L979.4 43.4L981.6 43.4L984.9 42.3L987.1 38.9L988.2 33.3L988.2 30.0L987.1 24.4L984.9 21.0L981.6 19.9L979.4 19.9"/>
<path class="t" d="M236.4 165.8L236.1 164.1L235.3 162.7L234.1 161.7L232.7 161.3L231.3 161.7L230.1 162.7L229.3 164.1L229.0 165.8L229.3 167.5L230.1 169.0L231.3 169.9L232.7 170.3L234.1 169.9L235.3 169.0L236.1 167.5L236.4 165.8M229.3 171.5L236.1 159.7M239.8 162.2L239.8 161.6L240.3 160.5L240.9 160.0L242.0 159.4L244.3 159.4L245.4 160.0L246.0 160.5L246.5 161.6L246.5 162.7L246.0 163.9L244.8 165.5L239.2 171.1L247.1 171.1M251.6 170.0L251.1 170.5L251.6 171.1L252.2 170.5L251.6 170.0M263.0 159.4L257.3 159.4L256.7 164.4L257.3 163.9L259.0 163.3L260.7 163.3L262.4 163.9L263.5 165.0L264.1 166.6L264.1 167.8L263.5 169.4L262.4 170.5L260.7 171.1L259.0 171.1L257.3 170.5L256.7 170.0L256.2 168.9M267.5 163.3L273.7 171.1M273.7 163.3L267.5 171.1M277.7 162.2L277.7 161.6L278.2 160.5L278.8 160.0L279.9 159.4L282.2 159.4L283.3 160.0L283.9 160.5L284.5 161.6L284.5 162.7L283.9 163.9L282.8 165.5L277.1 171.1L285.0 171.1M289.6 170.0L289.0 170.5L289.6 171.1L290.1 170.5L289.6 170.0M294.7 162.2L294.7 161.6L295.2 160.5L295.8 160.0L296.9 159.4L299.2 159.4L300.3 160.0L300.9 160.5L301.4 161.6L301.4 162.7L300.9 163.9L299.7 165.5L294.1 171.1L302.0 171.1M304.3 166.1L314.5 166.1M325.2 162.2L324.6 161.1L323.5 160.0L322.4 159.4L320.1 159.4L319.0 160.0L317.9 161.1L317.3 162.2L316.7 163.9L316.7 166.6L317.3 168.3L317.9 169.4L319.0 170.5L320.1 171.1L322.4 171.1L323.5 170.5L324.6 169.4L325.2 168.3M331.4 163.3L330.3 163.9L329.2 165.0L328.6 166.6L328.6 167.8L329.2 169.4L330.3 170.5L331.4 171.1L333.1 171.1L334.3 170.5L335.4 169.4L336.0 167.8L336.0 166.6L335.4 165.0L334.3 163.9L333.1 163.3L331.4 163.3M339.9 163.3L339.9 171.1M339.9 166.6L340.5 165.0L341.6 163.9L342.8 163.3L344.5 163.3M346.7 166.6L353.5 166.6L353.5 165.5L352.9 164.4L352.4 163.9L351.2 163.3L349.5 163.3L348.4 163.9L347.3 165.0L346.7 166.6L346.7 167.8L347.3 169.4L348.4 170.5L349.5 171.1L351.2 171.1L352.4 170.5L353.5 169.4M373.3 165.0L372.8 163.9L371.1 163.3L369.4 163.3L367.7 163.9L367.1 165.0L367.7 166.1L368.8 166.6L371.6 167.2L372.8 167.8L373.3 168.9L373.3 169.4L372.8 170.5L371.1 171.1L369.4 171.1L367.7 170.5L367.1 169.4M377.3 159.4L377.3 171.1M377.3 165.5L379.0 163.9L380.1 163.3L381.8 163.3L382.9 163.9L383.5 165.5L383.5 171.1M387.5 159.4L388.0 160.0L388.6 159.4L388.0 158.8L387.5 159.4M388.0 163.3L388.0 171.1M392.0 166.6L398.8 166.6L398.8 165.5L398.2 164.4L397.7 163.9L396.5 163.3L394.8 163.3L393.7 163.9L392.6 165.0L392.0 166.6L392.0 167.8L392.6 169.4L393.7 170.5L394.8 171.1L396.5 171.1L397.7 170.5L398.8 169.4M402.7 159.4L402.7 171.1M413.5 159.4L413.5 171.1M413.5 165.0L412.4 163.9L411.2 163.3L409.5 163.3L408.4 163.9L407.3 165.0L406.7 166.6L406.7 167.8L407.3 169.4L408.4 170.5L409.5 171.1L411.2 171.1L412.4 170.5L413.5 169.4"/>
<path class="t" d="M238.4 187.2L237.8 186.1L236.7 185.0L235.6 184.4L233.3 184.4L232.2 185.0L231.0 186.1L230.5 187.2L229.9 188.9L229.9 191.6L230.5 193.3L231.0 194.4L232.2 195.5L233.3 196.1L235.6 196.1L236.7 195.5L237.8 194.4L238.4 193.3M248.6 188.3L248.6 196.1M248.6 190.0L247.5 188.9L246.3 188.3L244.6 188.3L243.5 188.9L242.4 190.0L241.8 191.6L241.8 192.8L242.4 194.4L243.5 195.5L244.6 196.1L246.3 196.1L247.5 195.5L248.6 194.4M253.1 184.4L253.1 196.1M253.1 190.0L254.3 188.9L255.4 188.3L257.1 188.3L258.2 188.9L259.4 190.0L259.9 191.6L259.9 192.8L259.4 194.4L258.2 195.5L257.1 196.1L255.4 196.1L254.3 195.5L253.1 194.4M263.9 184.4L263.9 196.1M267.9 191.6L274.7 191.6L274.7 190.5L274.1 189.4L273.5 188.9L272.4 188.3L270.7 188.3L269.6 188.9L268.4 190.0L267.9 191.6L267.9 192.8L268.4 194.4L269.6 195.5L270.7 196.1L272.4 196.1L273.5 195.5L274.7 194.4M288.8 184.4L288.8 196.1M292.8 191.6L299.6 191.6L299.6 190.5L299.0 189.4L298.5 188.9L297.3 188.3L295.6 188.3L294.5 188.9L293.4 190.0L292.8 191.6L292.8 192.8L293.4 194.4L294.5 195.5L295.6 196.1L297.3 196.1L298.5 195.5L299.6 194.4M303.6 188.3L303.6 196.1M303.6 190.5L305.3 188.9L306.4 188.3L308.1 188.3L309.2 188.9L309.8 190.5L309.8 196.1M320.5 188.3L320.5 196.6L320.0 197.4L319.4 197.6L318.3 197.9L316.6 197.9L315.4 197.6M320.5 190.0L319.4 188.9L318.3 188.3L316.6 188.3L315.4 188.9L314.3 190.0L313.7 191.6L313.7 192.8L314.3 194.4L315.4 195.5L316.6 196.1L318.3 196.1L319.4 195.5L320.5 194.4M325.6 184.4L325.6 193.9L326.2 195.5L327.3 196.1L328.5 196.1M323.9 188.3L327.9 188.3M331.9 184.4L331.9 196.1M331.9 190.5L333.6 188.9L334.7 188.3L336.4 188.3L337.5 188.9L338.1 190.5L338.1 196.1M353.4 188.3L352.8 188.9L353.4 189.4L354.0 188.9L353.4 188.3M353.4 195.0L352.8 195.5L353.4 196.1L354.0 195.5L353.4 195.0M358.5 187.2L358.5 186.6L359.1 185.5L359.6 185.0L360.8 184.4L363.0 184.4L364.2 185.0L364.7 185.5L365.3 186.6L365.3 187.7L364.7 188.9L363.6 190.5L357.9 196.1L365.9 196.1M369.8 188.3L369.8 196.1M369.8 190.5L371.5 188.9L372.7 188.3L374.4 188.3L375.5 188.9L376.1 190.5L376.1 196.1M376.1 190.5L377.8 188.9L378.9 188.3L380.6 188.3L381.7 188.9L382.3 190.5L382.3 196.1"/>
<path d="M225.5 176.5L419.5 176.5"/>
<path d="M419.5 176.5L471 322"/>
<path d="M471 322L465.796 312.7L469.19 311.497Z" fill="#fff"/>
<path class="t" d="M573.0 159.4L568.5 171.1M573.0 159.4L577.4 171.1M570.2 167.2L575.7 167.2M579.6 159.4L580.2 160.0L580.8 159.4L580.2 158.8L579.6 159.4M580.2 163.3L580.2 171.1M584.7 163.3L584.7 171.1M584.7 166.6L585.2 165.0L586.3 163.9L587.5 163.3L589.1 163.3M601.9 163.3L601.9 172.9M601.9 165.0L603.1 163.9L604.2 163.3L605.8 163.3L607.0 163.9L608.1 165.0L608.6 166.6L608.6 167.8L608.1 169.4L607.0 170.5L605.8 171.1L604.2 171.1L603.1 170.5L601.9 169.4M614.8 163.3L613.6 163.9L612.5 165.0L612.0 166.6L612.0 167.8L612.5 169.4L613.6 170.5L614.8 171.1L616.4 171.1L617.6 170.5L618.7 169.4L619.2 167.8L619.2 166.6L618.7 165.0L617.6 163.9L616.4 163.3L614.8 163.3M623.1 163.3L623.1 171.1M623.1 166.6L623.7 165.0L624.8 163.9L625.9 163.3L627.6 163.3M630.9 159.4L630.9 168.9L631.5 170.5L632.6 171.1L633.7 171.1M629.3 163.3L633.2 163.3M651.0 157.2L649.9 158.3L648.8 160.0L647.7 162.2L647.1 165.0L647.1 167.2L647.7 170.0L648.8 171.6L649.9 172.4L651.0 172.9M658.2 159.4L657.1 159.4L656.0 160.0L655.5 161.6L655.5 171.1M653.8 163.3L657.7 163.3M663.8 163.3L662.7 163.9L661.6 165.0L661.0 166.6L661.0 167.8L661.6 169.4L662.7 170.5L663.8 171.1L665.5 171.1L666.6 170.5L667.7 169.4L668.3 167.8L668.3 166.6L667.7 165.0L666.6 163.9L665.5 163.3L663.8 163.3M672.2 163.3L672.2 171.1M672.2 166.6L672.7 165.0L673.8 163.9L675.0 163.3L676.6 163.3M694.5 159.4L688.9 167.2L697.3 167.2M694.5 159.4L694.5 171.1M701.2 170.0L700.6 170.5L701.2 171.1L701.7 170.5L701.2 170.0M709.0 159.4L707.3 160.0L706.2 161.6L705.6 164.4L705.6 166.1L706.2 168.9L707.3 170.5L709.0 171.1L710.1 171.1L711.8 170.5L712.9 168.9L713.4 166.1L713.4 164.4L712.9 161.6L711.8 160.0L710.1 159.4L709.0 159.4M729.6 163.3L728.5 163.9L727.4 165.0L726.8 166.6L726.8 167.8L727.4 169.4L728.5 170.5L729.6 171.1L731.3 171.1L732.4 170.5L733.5 169.4L734.0 167.8L734.0 166.6L733.5 165.0L732.4 163.9L731.3 163.3L729.6 163.3M737.9 163.3L737.9 168.9L738.5 170.5L739.6 171.1L741.3 171.1L742.4 170.5L744.1 168.9M744.1 163.3L744.1 171.1M749.1 159.4L749.1 168.9L749.7 170.5L750.8 171.1L751.9 171.1M747.4 163.3L751.3 163.3M754.7 166.6L761.4 166.6L761.4 165.5L760.8 164.4L760.2 163.9L759.1 163.3L757.5 163.3L756.3 163.9L755.2 165.0L754.7 166.6L754.7 167.8L755.2 169.4L756.3 170.5L757.5 171.1L759.1 171.1L760.2 170.5L761.4 169.4M765.3 163.3L765.3 171.1M765.3 166.6L765.8 165.0L766.9 163.9L768.0 163.3L769.7 163.3M788.7 159.4L788.7 171.1M788.7 165.0L787.6 163.9L786.4 163.3L784.8 163.3L783.7 163.9L782.5 165.0L782.0 166.6L782.0 167.8L782.5 169.4L783.7 170.5L784.8 171.1L786.4 171.1L787.6 170.5L788.7 169.4M792.6 159.4L793.1 160.0L793.7 159.4L793.1 158.8L792.6 159.4M793.1 163.3L793.1 171.1M803.7 163.3L803.7 171.1M803.7 165.0L802.6 163.9L801.5 163.3L799.8 163.3L798.7 163.9L797.6 165.0L797.0 166.6L797.0 167.8L797.6 169.4L798.7 170.5L799.8 171.1L801.5 171.1L802.6 170.5L803.7 169.4M808.2 163.3L808.2 171.1M808.2 165.5L809.9 163.9L811.0 163.3L812.6 163.3L813.8 163.9L814.3 165.5L814.3 171.1M814.3 165.5L816.0 163.9L817.1 163.3L818.8 163.3L819.9 163.9L820.4 165.5L820.4 171.1M824.3 166.6L831.0 166.6L831.0 165.5L830.5 164.4L829.9 163.9L828.8 163.3L827.1 163.3L826.0 163.9L824.9 165.0L824.3 166.6L824.3 167.8L824.9 169.4L826.0 170.5L827.1 171.1L828.8 171.1L829.9 170.5L831.0 169.4M835.5 159.4L835.5 168.9L836.1 170.5L837.2 171.1L838.3 171.1M833.8 163.3L837.7 163.3M841.1 166.6L847.8 166.6L847.8 165.5L847.2 164.4L846.6 163.9L845.5 163.3L843.9 163.3L842.7 163.9L841.6 165.0L841.1 166.6L841.1 167.8L841.6 169.4L842.7 170.5L843.9 171.1L845.5 171.1L846.6 170.5L847.8 169.4M851.7 163.3L851.7 171.1M851.7 166.6L852.2 165.0L853.3 163.9L854.4 163.3L856.1 163.3M875.1 163.3L875.1 171.1M875.1 165.0L874.0 163.9L872.8 163.3L871.2 163.3L870.1 163.9L868.9 165.0L868.4 166.6L868.4 167.8L868.9 169.4L870.1 170.5L871.2 171.1L872.8 171.1L874.0 170.5L875.1 169.4M879.0 159.4L879.5 160.0L880.1 159.4L879.5 158.8L879.0 159.4M879.5 163.3L879.5 171.1M884.0 163.3L884.0 171.1M884.0 166.6L884.5 165.0L885.7 163.9L886.8 163.3L888.4 163.3M901.3 159.4L901.3 171.1M901.3 165.5L902.9 163.9L904.1 163.3L905.7 163.3L906.8 163.9L907.4 165.5L907.4 171.1M914.1 163.3L913.0 163.9L911.9 165.0L911.3 166.6L911.3 167.8L911.9 169.4L913.0 170.5L914.1 171.1L915.8 171.1L916.9 170.5L918.0 169.4L918.5 167.8L918.5 166.6L918.0 165.0L916.9 163.9L915.8 163.3L914.1 163.3M928.0 165.0L927.5 163.9L925.8 163.3L924.1 163.3L922.4 163.9L921.9 165.0L922.4 166.1L923.6 166.6L926.3 167.2L927.5 167.8L928.0 168.9L928.0 169.4L927.5 170.5L925.8 171.1L924.1 171.1L922.4 170.5L921.9 169.4M931.4 166.6L938.1 166.6L938.1 165.5L937.5 164.4L936.9 163.9L935.8 163.3L934.2 163.3L933.0 163.9L931.9 165.0L931.4 166.6L931.4 167.8L931.9 169.4L933.0 170.5L934.2 171.1L935.8 171.1L936.9 170.5L938.1 169.4M941.4 157.2L942.5 158.3L943.6 160.0L944.7 162.2L945.3 165.0L945.3 167.2L944.7 170.0L943.6 171.6L942.5 172.4L941.4 172.9"/>
<path d="M557 176.5L953 176.5"/>
<path d="M557 176.5L517 251.5"/>
<path d="M517 251.5L520.346 241.382L523.524 243.075Z" fill="#fff"/>
<path class="t" d="M609.2 206.5L604.8 218.2M609.2 206.5L613.7 218.2M606.5 214.3L612.0 214.3M615.9 206.5L616.4 207.1L617.0 206.5L616.4 205.9L615.9 206.5M616.4 210.4L616.4 218.2M620.9 210.4L620.9 218.2M620.9 213.7L621.4 212.1L622.5 211.0L623.7 210.4L625.3 210.4M638.1 210.4L638.1 220.0M638.1 212.1L639.2 211.0L640.3 210.4L642.0 210.4L643.1 211.0L644.2 212.1L644.7 213.7L644.7 214.9L644.2 216.5L643.1 217.6L642.0 218.2L640.3 218.2L639.2 217.6L638.1 216.5M650.8 210.4L649.7 211.0L648.6 212.1L648.1 213.7L648.1 214.9L648.6 216.5L649.7 217.6L650.8 218.2L652.5 218.2L653.6 217.6L654.7 216.5L655.3 214.9L655.3 213.7L654.7 212.1L653.6 211.0L652.5 210.4L650.8 210.4M659.2 210.4L659.2 218.2M659.2 213.7L659.7 212.1L660.8 211.0L661.9 210.4L663.6 210.4M666.9 206.5L666.9 216.0L667.5 217.6L668.6 218.2L669.7 218.2M665.3 210.4L669.1 210.4M686.9 204.3L685.8 205.4L684.7 207.1L683.6 209.3L683.0 212.1L683.0 214.3L683.6 217.1L684.7 218.7L685.8 219.5L686.9 220.0M694.1 206.5L693.0 206.5L691.9 207.1L691.3 208.7L691.3 218.2M689.7 210.4L693.5 210.4M699.6 210.4L698.5 211.0L697.4 212.1L696.9 213.7L696.9 214.9L697.4 216.5L698.5 217.6L699.6 218.2L701.3 218.2L702.4 217.6L703.5 216.5L704.1 214.9L704.1 213.7L703.5 212.1L702.4 211.0L701.3 210.4L699.6 210.4M708.0 210.4L708.0 218.2M708.0 213.7L708.5 212.1L709.6 211.0L710.7 210.4L712.4 210.4M725.2 209.3L725.2 208.7L725.7 207.6L726.3 207.1L727.4 206.5L729.6 206.5L730.7 207.1L731.3 207.6L731.8 208.7L731.8 209.8L731.3 211.0L730.1 212.6L724.6 218.2L732.4 218.2M736.8 217.1L736.2 217.6L736.8 218.2L737.4 217.6L736.8 217.1M747.9 206.5L742.3 206.5L741.8 211.5L742.3 211.0L744.0 210.4L745.7 210.4L747.3 211.0L748.4 212.1L749.0 213.7L749.0 214.9L748.4 216.5L747.3 217.6L745.7 218.2L744.0 218.2L742.3 217.6L741.8 217.1L741.2 216.0M762.3 206.5L762.9 207.1L763.4 206.5L762.9 205.9L762.3 206.5M762.9 210.4L762.9 218.2M767.3 210.4L767.3 218.2M767.3 212.6L769.0 211.0L770.1 210.4L771.7 210.4L772.8 211.0L773.4 212.6L773.4 218.2M777.8 210.4L777.8 218.2M777.8 212.6L779.5 211.0L780.6 210.4L782.3 210.4L783.4 211.0L783.9 212.6L783.9 218.2M787.8 213.7L794.5 213.7L794.5 212.6L793.9 211.5L793.4 211.0L792.3 210.4L790.6 210.4L789.5 211.0L788.4 212.1L787.8 213.7L787.8 214.9L788.4 216.5L789.5 217.6L790.6 218.2L792.3 218.2L793.4 217.6L794.5 216.5M798.4 210.4L798.4 218.2M798.4 213.7L798.9 212.1L800.0 211.0L801.1 210.4L802.8 210.4M821.7 206.5L821.7 218.2M821.7 212.1L820.5 211.0L819.4 210.4L817.8 210.4L816.7 211.0L815.6 212.1L815.0 213.7L815.0 214.9L815.6 216.5L816.7 217.6L817.8 218.2L819.4 218.2L820.5 217.6L821.7 216.5M825.5 206.5L826.1 207.1L826.6 206.5L826.1 205.9L825.5 206.5M826.1 210.4L826.1 218.2M836.6 210.4L836.6 218.2M836.6 212.1L835.5 211.0L834.4 210.4L832.7 210.4L831.6 211.0L830.5 212.1L830.0 213.7L830.0 214.9L830.5 216.5L831.6 217.6L832.7 218.2L834.4 218.2L835.5 217.6L836.6 216.5M841.1 210.4L841.1 218.2M841.1 212.6L842.7 211.0L843.8 210.4L845.5 210.4L846.6 211.0L847.2 212.6L847.2 218.2M847.2 212.6L848.8 211.0L849.9 210.4L851.6 210.4L852.7 211.0L853.3 212.6L853.3 218.2M857.1 213.7L863.8 213.7L863.8 212.6L863.2 211.5L862.7 211.0L861.6 210.4L859.9 210.4L858.8 211.0L857.7 212.1L857.1 213.7L857.1 214.9L857.7 216.5L858.8 217.6L859.9 218.2L861.6 218.2L862.7 217.6L863.8 216.5M868.2 206.5L868.2 216.0L868.8 217.6L869.9 218.2L871.0 218.2M866.6 210.4L870.5 210.4M873.8 213.7L880.4 213.7L880.4 212.6L879.9 211.5L879.3 211.0L878.2 210.4L876.6 210.4L875.5 211.0L874.3 212.1L873.8 213.7L873.8 214.9L874.3 216.5L875.5 217.6L876.6 218.2L878.2 218.2L879.3 217.6L880.4 216.5M884.3 210.4L884.3 218.2M884.3 213.7L884.9 212.1L886.0 211.0L887.1 210.4L888.8 210.4M907.6 210.4L907.6 218.2M907.6 212.1L906.5 211.0L905.4 210.4L903.7 210.4L902.6 211.0L901.5 212.1L901.0 213.7L901.0 214.9L901.5 216.5L902.6 217.6L903.7 218.2L905.4 218.2L906.5 217.6L907.6 216.5M911.5 206.5L912.1 207.1L912.6 206.5L912.1 205.9L911.5 206.5M912.1 210.4L912.1 218.2M916.5 210.4L916.5 218.2M916.5 213.7L917.0 212.1L918.2 211.0L919.3 210.4L920.9 210.4M933.7 206.5L933.7 218.2M933.7 212.6L935.3 211.0L936.5 210.4L938.1 210.4L939.2 211.0L939.8 212.6L939.8 218.2M946.4 210.4L945.3 211.0L944.2 212.1L943.7 213.7L943.7 214.9L944.2 216.5L945.3 217.6L946.4 218.2L948.1 218.2L949.2 217.6L950.3 216.5L950.9 214.9L950.9 213.7L950.3 212.1L949.2 211.0L948.1 210.4L946.4 210.4M960.3 212.1L959.8 211.0L958.1 210.4L956.4 210.4L954.8 211.0L954.2 212.1L954.8 213.2L955.9 213.7L958.6 214.3L959.8 214.9L960.3 216.0L960.3 216.5L959.8 217.6L958.1 218.2L956.4 218.2L954.8 217.6L954.2 216.5M963.6 213.7L970.3 213.7L970.3 212.6L969.7 211.5L969.2 211.0L968.1 210.4L966.4 210.4L965.3 211.0L964.2 212.1L963.6 213.7L963.6 214.9L964.2 216.5L965.3 217.6L966.4 218.2L968.1 218.2L969.2 217.6L970.3 216.5M973.6 204.3L974.7 205.4L975.8 207.1L976.9 209.3L977.5 212.1L977.5 214.3L976.9 217.1L975.8 218.7L974.7 219.5L973.6 220.0"/>
<path d="M600 223.5L983 223.5"/>
<path d="M600 223.5L517.5 525"/>
<path d="M517.5 525L518.536 514.398L522.008 515.348Z" fill="#fff"/>
</g>
</svg>
</body></html>
